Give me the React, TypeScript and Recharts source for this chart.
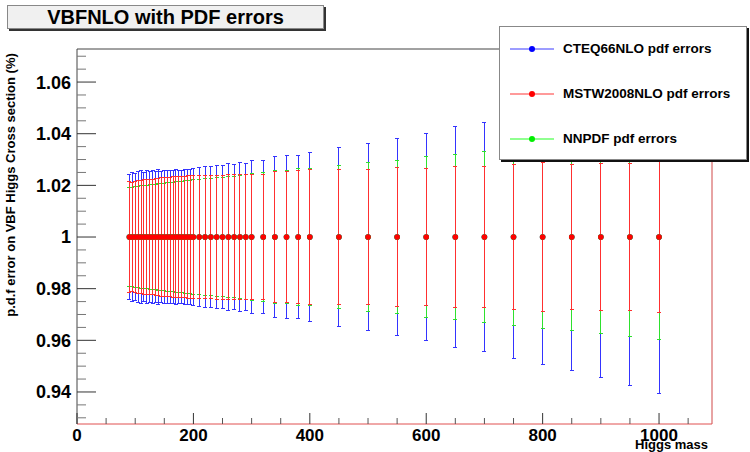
import { ScatterChart, Scatter, XAxis, YAxis, ErrorBar, ReferenceLine } from "recharts";

// Higgs masses (GeV)
const masses = [
  90, 95, 100, 105, 110, 115, 120, 125, 130, 135, 140, 145, 150, 155, 160, 165, 170, 175, 180, 185, 190, 195, 200,
  210, 220, 230, 240, 250, 260, 270, 280, 290, 300,
  320, 340, 360, 380, 400,
  450, 500, 550, 600, 650, 700, 750, 800, 850, 900, 950, 1000,
];

// half widths of the pdf error bands (relative)
const cteqErr = [
  0.0243, 0.025, 0.0246, 0.0253, 0.0256, 0.0249, 0.0258, 0.0252, 0.0257, 0.0255, 0.026, 0.0253, 0.0257, 0.0256,
  0.0259, 0.0257, 0.026, 0.0258, 0.0259, 0.0261, 0.0263, 0.0262, 0.0265,
  0.027, 0.0273, 0.0274, 0.0275, 0.0278, 0.0283, 0.0281, 0.0288, 0.0285, 0.0297,
  0.0295, 0.0312, 0.0314, 0.0316, 0.0327,
  0.0348, 0.0362, 0.0382, 0.04, 0.0429, 0.0443, 0.047, 0.0493, 0.0516, 0.0545, 0.0576, 0.0607,
];
const mstwErr = [
  0.0214, 0.0212, 0.0216, 0.0219, 0.0218, 0.0222, 0.0221, 0.0224, 0.0224, 0.0226, 0.0227, 0.0229, 0.023, 0.023,
  0.0232, 0.0233, 0.0233, 0.0235, 0.0235, 0.0236, 0.0237, 0.0237, 0.0238,
  0.0238, 0.0239, 0.0239, 0.024, 0.024, 0.0241, 0.0241, 0.0242, 0.0242, 0.0243,
  0.0243, 0.0255, 0.0253, 0.0259, 0.026,
  0.0261, 0.0262, 0.027, 0.0266, 0.0272, 0.0273, 0.0281, 0.0289, 0.0281, 0.0284, 0.0286, 0.0291,
];
const nnpdfErr = [
  0.0192, 0.0193, 0.0195, 0.0196, 0.0198, 0.0199, 0.02, 0.0202, 0.0203, 0.0205, 0.0206, 0.0207, 0.0209, 0.021,
  0.0211, 0.0212, 0.0214, 0.0215, 0.0216, 0.0217, 0.0219, 0.022, 0.0221,
  0.0223, 0.0225, 0.0227, 0.0229, 0.0231, 0.0234, 0.0236, 0.0239, 0.0242, 0.0246,
  0.0249, 0.0258, 0.0258, 0.0264, 0.0264,
  0.0278, 0.0287, 0.0296, 0.031, 0.0319, 0.033, 0.0343, 0.0353, 0.0361, 0.0374, 0.0385, 0.0397,
];

const xTicks = [0, 50, 100, 150, 200, 250, 300, 350, 400, 450, 500, 550, 600, 650, 700, 750, 800, 850, 900, 950, 1000, 1050];
const xLabels = [0, 200, 400, 600, 800, 1000];
const yTicks = [
  0.93, 0.935, 0.94, 0.945, 0.95, 0.955, 0.96, 0.965, 0.97, 0.975, 0.98, 0.985, 0.99, 0.995, 1,
  1.005, 1.01, 1.015, 1.02, 1.025, 1.03, 1.035, 1.04, 1.045, 1.05, 1.055, 1.06, 1.065, 1.07,
];
const yLabels = [0.94, 0.96, 0.98, 1, 1.02, 1.04, 1.06];

const xDomain = [0, 1091];
const yDomain = [0.9276, 1.0728];

const series = [
  { name: "CTEQ66NLO pdf errors", errs: cteqErr, bar: "#3434ff", dot: "#0000ff", key: "#3a3aff" },
  { name: "NNPDF pdf errors", errs: nnpdfErr, bar: "#2ee02e", dot: "#00ee00", key: "#90ff90" },
  { name: "MSTW2008NLO pdf errors", errs: mstwErr, bar: "#ff3030", dot: "#ff0000", key: "#ff9a9a" },
];
const legendOrder = [0, 2, 1];

const font = "'Liberation Sans', Arial, Helvetica, sans-serif";

const XTick = (props: any) => {
  const { x, y, payload } = props;
  const v = payload.value;
  const major = xLabels.includes(v);
  const axisY = y - 4;
  return (
    <g>
      <line x1={x} x2={x} y1={axisY} y2={axisY - (major ? 11 : 6)} stroke={major ? "#333" : "#555"} />
      {major && (
        <text x={x} y={axisY} dy={16.5} textAnchor="middle" fontFamily={font} fontWeight="bold" fontSize={17} fill="#000">
          {v}
        </text>
      )}
    </g>
  );
};

const YTick = (props: any) => {
  const { x, y, payload } = props;
  const v = payload.value;
  const major = yLabels.some((l) => Math.abs(l - v) < 1e-6);
  const axisX = x + 6;
  return (
    <g>
      <line x1={axisX} x2={axisX + (major ? 19 : 9)} y1={y} y2={y} stroke={major ? "#333" : "#777"} />
      {major && (
        <text x={x} y={y} dy="0.36em" textAnchor="end" fontFamily={font} fontWeight="bold" fontSize={18} fill="#000">
          {String(v)}
        </text>
      )}
    </g>
  );
};

export default function App() {
  return (
    <div style={{ position: "absolute", left: 0, top: 0, width: 750, height: 452, background: "#fff", fontFamily: font }}>
      <ScatterChart width={750} height={452} margin={{ top: 49, right: 38, bottom: 8, left: 17 }}>
        <XAxis
          type="number"
          dataKey="x"
          domain={xDomain}
          ticks={xTicks}
          interval={0}
          allowDataOverflow
          tickSize={0}
          tickMargin={4}
          height={20}
          axisLine={{ stroke: "#e05050" }}
          tick={<XTick />}
        />
        <YAxis
          type="number"
          dataKey="y"
          domain={yDomain}
          ticks={yTicks}
          interval={0}
          allowDataOverflow
          tickSize={0}
          tickMargin={6}
          width={60}
          axisLine={{ stroke: "#444" }}
          tick={<YTick />}
        />
        <ReferenceLine y={yDomain[1]} stroke="#444" ifOverflow="visible" />
        <ReferenceLine x={xDomain[1]} stroke="#d04848" ifOverflow="visible" />
        {series.map((s) => (
          <Scatter
            key={s.name}
            name={s.name}
            data={masses.map((m, i) => ({ x: m, y: 1, err: s.errs[i] }))}
            isAnimationActive={false}
            shape={(p: any) => <circle cx={p.cx} cy={p.cy} r={2.8} fill={s.dot} />}
          >
            <ErrorBar
              dataKey="err"
              direction="y"
              width={2}
              stroke={s.bar}
              strokeWidth={1}
              shapeRendering="crispEdges"
              isAnimationActive={false}
            />
          </Scatter>
        ))}
      </ScatterChart>

      {/* title box */}
      <div
        style={{
          position: "absolute",
          left: 7,
          top: 5,
          width: 315,
          height: 22,
          background: "#f0f0f0",
          border: "1px solid #888",
          boxShadow: "2px 2px 0 #333",
          textAlign: "center",
          fontWeight: "bold",
          fontSize: 20,
          lineHeight: "23px",
          color: "#000",
        }}
      >
        VBFNLO with PDF errors
      </div>

      {/* legend */}
      <div
        style={{
          position: "absolute",
          left: 499,
          top: 26,
          width: 246,
          height: 132,
          background: "#fff",
          border: "1px solid #888",
          boxShadow: "2px 2px 0 #111",
        }}
      >
        {legendOrder.map((idx, row) => {
          const s = series[idx];
          return (
            <div key={s.name} style={{ position: "absolute", left: 0, top: 22 + row * 45 - 10, height: 20, width: 246 }}>
              <svg width={60} height={20} style={{ position: "absolute", left: 0, top: 0 }}>
                <line x1={10} x2={54} y1={10} y2={10} stroke={s.key} strokeWidth={idx === 0 ? 1 : 2} />
                <circle cx={32} cy={10} r={3} fill={s.dot} />
              </svg>
              <span
                style={{
                  position: "absolute",
                  left: 63,
                  top: 1,
                  fontWeight: "bold",
                  fontSize: 13.5,
                  lineHeight: "18px",
                  color: "#000",
                  whiteSpace: "nowrap",
                }}
              >
                {s.name}
              </span>
            </div>
          );
        })}
      </div>

      {/* axis titles */}
      <svg width={750} height={452} style={{ position: "absolute", left: 0, top: 0, pointerEvents: "none" }}>
        <text
          x={15}
          y={185}
          transform="rotate(-90, 15, 185)"
          textAnchor="middle"
          fontFamily={font}
          fontWeight="bold"
          fontSize={13}
          fill="#000"
        >
          p.d.f error on VBF Higgs Cross section (%)
        </text>
        <text x={708} y={448.5} textAnchor="end" fontFamily={font} fontWeight="bold" fontSize={13} fill="#000">
          Higgs mass
        </text>
      </svg>
    </div>
  );
}
